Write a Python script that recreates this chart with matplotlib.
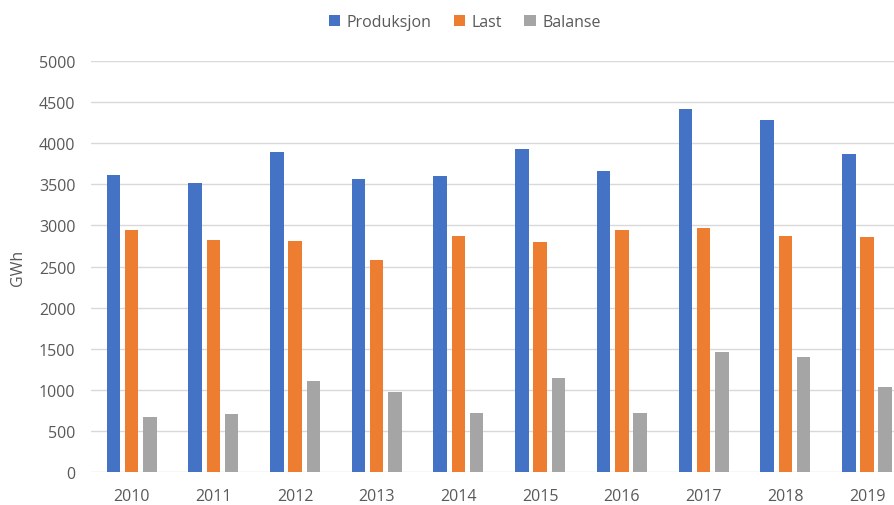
import matplotlib.pyplot as plt
import numpy as np

years = ['2010', '2011', '2012', '2013', '2014', '2015', '2016', '2017', '2018', '2019']
produksjon = [3610, 3520, 3890, 3570, 3600, 3935, 3665, 4415, 4280, 3865]
last = [2940, 2825, 2810, 2580, 2875, 2795, 2940, 2965, 2875, 2860]
balanse = [670, 700, 1100, 975, 715, 1140, 715, 1460, 1400, 1030]

series = [('Produksjon', produksjon, '#4472C4'),
          ('Last', last, '#ED7D31'),
          ('Balanse', balanse, '#A5A5A5')]

plt.rcParams['font.family'] = ['Open Sans', 'DejaVu Sans']

fig = plt.figure(figsize=(8.94, 5.06), dpi=100)
# axes runs a little past the right edge, like the cropped original
ax = fig.add_axes([0.1015, 0.0658, 0.914, 0.811])

x = np.arange(len(years))
width = 0.165
step = 0.223
for i, (name, vals, color) in enumerate(series):
    ax.bar(x + (i - 1) * step, vals, width, color=color, label=name, zorder=3)

ax.set_xlim(-0.5, len(years) - 0.5)
ax.set_ylim(0, 5000)
ax.set_yticks(range(0, 5001, 500))
ax.set_xticks(x)
ax.set_xticklabels(years)
ax.grid(axis='y', color='#D9D9D9', linewidth=1, zorder=0)
for s in ax.spines.values():
    s.set_visible(False)
ax.tick_params(axis='both', length=0, labelsize=11.5, colors='#595959')
ax.tick_params(axis='x', pad=12)
ax.tick_params(axis='y', pad=11)
ax.set_ylabel('GWh', fontsize=11.5, color='#595959', labelpad=9)

fig.legend(loc='center', bbox_to_anchor=(0.52, 0.955), ncol=3, frameon=False,
           fontsize=11.5, handlelength=0.7, handleheight=0.7, handletextpad=0.4,
           columnspacing=1.4, labelcolor='#595959')

fig.savefig('out.png', dpi=100)
